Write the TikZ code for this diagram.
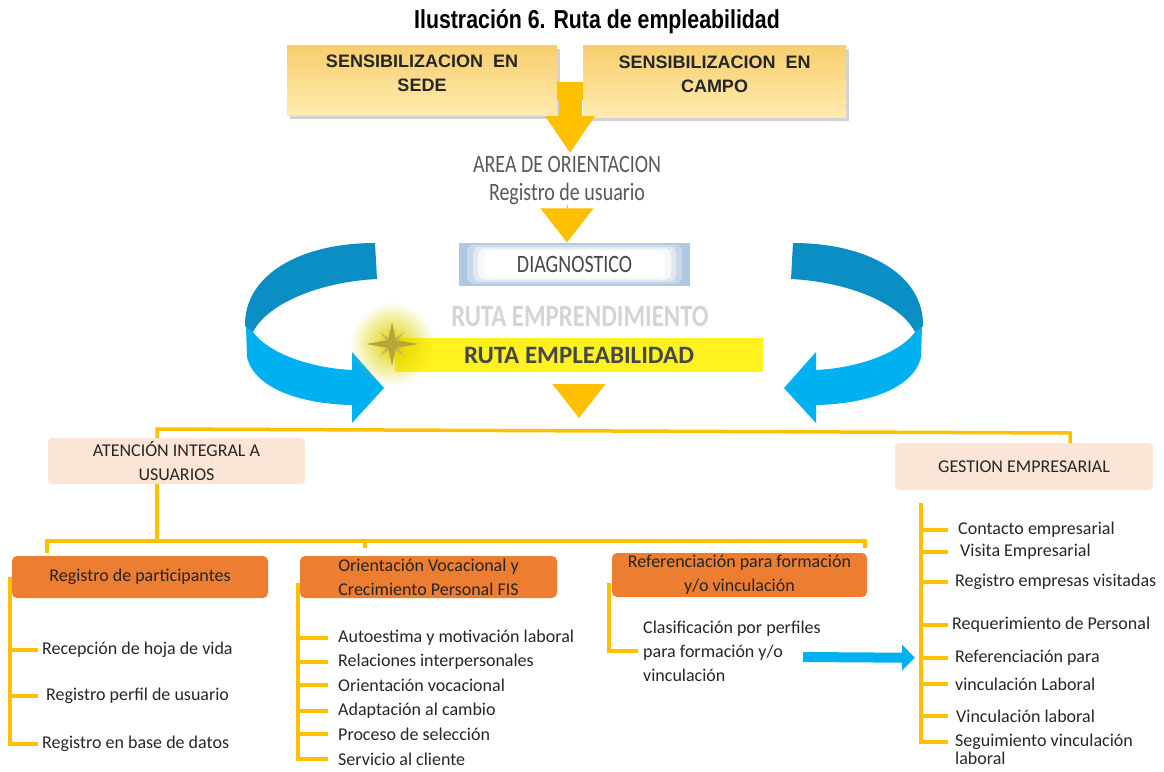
\documentclass[tikz,border=0pt]{standalone}
\usepackage{fontspec}
\setmainfont{Carlito}
\newfontfamily\arialfont{Liberation Sans}
\newfontfamily\narrowfont[FakeStretch=0.82]{Liberation Sans}
\newfontfamily\condfont[FakeStretch=0.8]{Carlito}
\usetikzlibrary{positioning,shadows,arrows.meta,fadings}

\definecolor{gold}{HTML}{FFC000}
\definecolor{sandtop}{HTML}{F8CE6C}
\definecolor{sandbot}{HTML}{FEEBB0}
\definecolor{ink}{HTML}{262626}
\definecolor{slate}{HTML}{595959}
\definecolor{peach}{HTML}{FBE5D6}
\definecolor{tangerine}{HTML}{ED7D31}
\definecolor{skyblue}{HTML}{00B0F0}
\definecolor{deepblue}{HTML}{0B8EC3}
\definecolor{frost}{HTML}{AFC8E2}
\definecolor{lemon}{HTML}{FFF21F}
\definecolor{olivegold}{HTML}{B8A636}

\tikzfading[name=glowfade, inner color=transparent!0, outer color=transparent!100]

\tikzset{
  sensbox/.style={rectangle, top color=sandtop, bottom color=sandbot,
    drop shadow={shadow xshift=3pt, shadow yshift=-4pt, opacity=.35},
    font=\arialfont\bfseries\fontsize{18}{24}\selectfont, text=ink,
    align=center, text depth=14pt},
  goldbar/.style={draw=gold, line width=18pt},
  goldhead/.style={draw=gold, line width=0.1pt, -{Triangle[width=53pt,length=34pt]}},
  areatext/.style={font=\condfont\fontsize{25}{28}\selectfont, text=slate, align=center},
  diagbox/.style={fill=frost, minimum width=231, minimum height=43,
    font=\condfont\fontsize{25}{28}\selectfont, text=ink!85,
    path picture={
      \foreach \dx/\dy/\op in {8/2/0.3, 14/4/0.45, 19/6/0.7, 25/8/1}
        \fill[white, opacity=\op, rounded corners=7pt]
          ([shift={(\dx,\dy)}]path picture bounding box.north west)
          rectangle ([shift={(-\dx,-\dy)}]path picture bounding box.south east); %
    }},
  rutabar/.style={fill=lemon, minimum width=368, minimum height=34,
    font=\bfseries\fontsize{25}{28}\selectfont, text=ink!85},
  peachbox/.style={fill=peach, rounded corners=4pt, align=center, inner ysep=1pt,
    font=\fontsize{18}{24}\selectfont, text=ink},
  orangebox/.style={fill=tangerine, rounded corners=5pt, align=center, inner ysep=0pt,
    font=\fontsize{18}{24}\selectfont, text=ink},
  branch/.style={draw=gold, line width=3.5pt},
  item/.style={anchor=west, inner xsep=6pt, inner ysep=1pt, align=left,
    font=\fontsize{18}{24}\selectfont, text=ink},
  bluearrow/.style={draw=skyblue, line width=10pt, -{Triangle[width=25pt,length=13pt]}},
}

\begin{document}
\begin{tikzpicture}[x=1pt, y=-1pt]
\useasboundingbox (0,0) rectangle (1164,771); %

% titulo
\node[font=\narrowfont\bfseries\fontsize{26}{30}\selectfont] (titulo) at (597,22) {Ilustración 6. Ruta de empleabilidad}; %

% sensibilizacion
\node[sensbox, minimum width=270, minimum height=70] (sede) at (422,80) {SENSIBILIZACION\ \ EN\\SEDE}; %
\node[sensbox, minimum width=263, minimum height=72] (campo) at (714.5,81) {SENSIBILIZACION\ \ EN\\CAMPO}; %
\node[areatext] (area) at (567,181) {AREA DE ORIENTACION\\Registro de usuario}; %
\coordinate (tee) at (570,91); %
\draw[goldbar] (sede.east |- tee) -- (campo.west |- tee); %
\draw[goldbar, line width=23pt, -{Triangle[width=47pt,length=37pt]}] ([yshift=9pt]tee) -- (tee |- area.north); %

% diagnostico
\node[diagbox] (diag) at (574.5,264) {DIAGNOSTICO}; %
\draw[goldhead, shorten <=4pt] (area.south) -- (area.south |- diag.north); %

% flechas curvas
\foreach \flip/\shift in {1/0,-1/1168} {
  \begin{scope}[xshift=\shift, xscale=\flip]
    \fill[skyblue] (246,326) -- (247,357) .. controls (254,388) and (300,404) .. (352,405)
      -- (352,423) -- (384,388) -- (352,352) -- (352,370)
      .. controls (310,368) and (268,353) .. (253,332) -- cycle; %
    \fill[deepblue] (375,243) -- (377,279) .. controls (320,282) and (268,303) .. (253,332)
      -- (245,326) .. controls (244,275) and (300,243) .. (375,243) -- cycle; %
  \end{scope}
}

% rutas
\node[font=\condfont\bfseries\fontsize{31}{34}\selectfont, text=black!17] (empr) at (580,316) {RUTA EMPRENDIMIENTO}; %
\node[rutabar] (empl) at (579,355) {RUTA EMPLEABILIDAD}; %
\coordinate (star) at (392,344); %
\fill[yellow!70!olive, path fading=glowfade] (star) circle (42); %
\begin{scope}[shift={(star)}]
  \fill[olivegold!80] (-12,-12) -- (2,-2) -- (12,12) -- (-2,2) -- cycle; %
  \fill[olivegold!80] (12,-12) -- (2,2) -- (-12,12) -- (-2,-2) -- cycle; %
  \fill[olivegold] (0,-22) -- (4,-4) -- (26,0) -- (4,4) -- (0,22) -- (-4,4) -- (-26,0) -- (-4,-4) -- cycle; %
\end{scope}
\coordinate (hub) at (578,430); %
\draw[goldhead, shorten <=12pt, shorten >=12pt] (empl.south) -- (empl.south |- hub); %

% ramas principales
\node[peachbox, minimum width=257, minimum height=46] (att) at (176.5,461) {ATENCIÓN INTEGRAL A\\USUARIOS}; %
\node[peachbox, minimum width=258, minimum height=47] (gest) at (1024,466.5) {GESTION EMPRESARIAL}; %
\coordinate (ltick) at (157,429); %
\coordinate (rtick) at (1070,433); %
\draw[branch] (ltick |- att.north) -- (ltick) -- (rtick) -- (rtick |- gest.north); %

% servicios
\node[orangebox, minimum width=256, minimum height=42] (reg) at (140,577) {Registro de participantes}; %
\node[orangebox, minimum width=257, minimum height=42] (ovc) at (428.5,577) {Orientación Vocacional y\\Crecimiento Personal FIS}; %
\node[orangebox, minimum width=255, minimum height=44] (ref) at (739.5,575) {Referenciación para formación\\y/o vinculación}; %
\coordinate (split) at (157,541); %
\coordinate (sl) at (47,541); %
\coordinate (sm) at (365,541); %
\coordinate (sr) at (865,541); %
\draw[branch] (split |- att.south) -- (split); %
\draw[branch, shorten <=3pt, shorten >=5pt] (sl |- reg.north) -- (sl) -- (sr) -- (sr |- ref.north); %
\draw[branch, shorten >=8pt] (sm) -- (sm |- ovc.north); %

% registro de participantes
\coordinate (rs) at (10,577); %
\node[item, inner xsep=4pt] (r1) at (38,650) {Recepción de hoja de vida}; %
\node[item, inner xsep=8pt] (r2) at (38,696) {Registro perfil de usuario}; %
\node[item, inner xsep=4pt] (r3) at (38,744) {Registro en base de datos}; %
\draw[branch] (rs) |- (r1); %
\draw[branch] (rs) |- (r2); %
\draw[branch] (rs) |- (r3); %

% orientacion vocacional
\coordinate (os) at (298,583); %
\node[item, inner xsep=10pt] (o1) at (328,638) {Autoestima y motivación laboral}; %
\node[item, inner xsep=10pt] (o2) at (328,662) {Relaciones interpersonales}; %
\node[item, inner xsep=10pt] (o3) at (328,685) {Orientación vocacional}; %
\node[item, inner xsep=10pt] (o4) at (328,711) {Adaptación al cambio}; %
\node[item, inner xsep=10pt] (o5) at (328,734) {Proceso de selección}; %
\node[item, inner xsep=10pt] (o6) at (328,759) {Servicio al cliente}; %
\draw[branch] (os) |- (o1); %
\draw[branch] (os) |- (o2); %
\draw[branch] (os) |- (o3); %
\draw[branch] (os) |- (o4); %
\draw[branch] (os) |- (o5); %
\draw[branch] (os) |- (o6); %

% referenciacion
\coordinate (cs) at (609,583); %
\node[item, inner xsep=5pt] (c1) at (638,651) {Clasificación por perfiles\\para formación y/o\\vinculación}; %
\draw[branch] (cs) |- (c1); %

% gestion empresarial
\coordinate (gs) at (921,503); %
\node[item, inner xsep=10pt] (g1) at (948,530) {Contacto empresarial}; %
\node[item, inner xsep=12pt] (g2) at (948,552) {Visita Empresarial}; %
\node[item, inner xsep=7pt] (g3) at (948,582) {Registro empresas visitadas}; %
\node[item, inner xsep=4pt] (g4) at (948,625) {Requerimiento de Personal}; %
\node[item, inner xsep=7pt] (g5) at (948,658) {Referenciación para}; %
\node[item, inner xsep=7pt] (g6) at (948,684) {vinculación Laboral}; %
\node[item, inner xsep=8pt] (g7) at (948,716) {Vinculación laboral}; %
\node[item, inner xsep=7pt] (g8) at (948,742) {Seguimiento vinculación}; %
\node[item, inner xsep=7pt, anchor=north west] (g9) at (g8.south west) {laboral}; %
\draw[branch] (gs) |- (g1); %
\draw[branch] (gs) |- (g2); %
\draw[branch] (gs) |- (g3); %
\draw[branch] (gs) |- (g4); %
\draw[branch] (gs) |- (g5); %
\draw[branch] (gs) |- (g6); %
\draw[branch] (gs) |- (g7); %
\draw[branch] (gs) |- (g8); %

\coordinate (bstart) at (803,657); %
\draw[bluearrow, shorten >=33pt] (bstart) -- (g5.west); %
\end{tikzpicture}
\end{document}
